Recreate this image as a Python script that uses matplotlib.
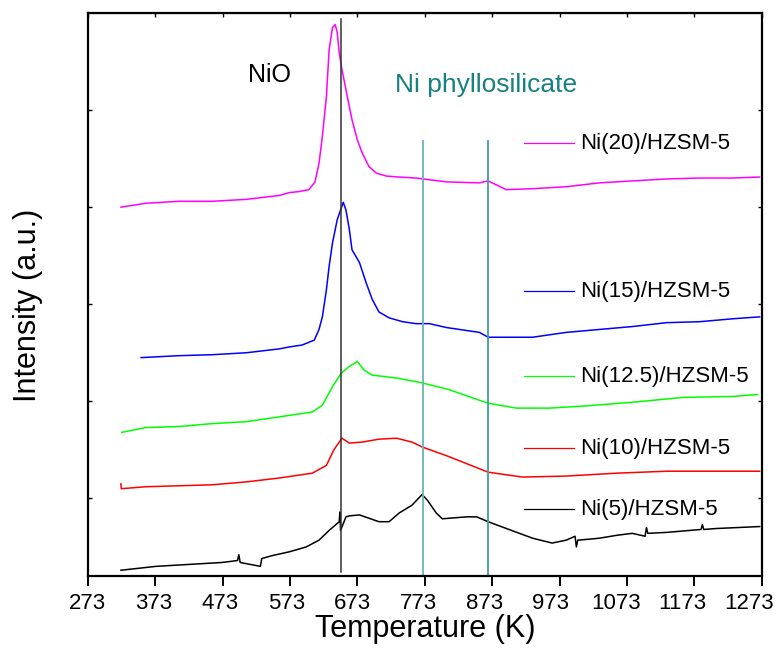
import matplotlib
matplotlib.use("Agg")
import matplotlib.pyplot as plt
from matplotlib.lines import Line2D
from matplotlib.transforms import ScaledTranslation

plt.rcParams['font.family'] = ['Liberation Sans', 'DejaVu Sans']

# ---- data (temperature in K, intensity in a.u., curves vertically offset) ----
T_20 = [322, 359, 408, 457, 508, 557, 572, 586, 601, 610, 616, 621, 627, 631, 636, 640, 643,
        646, 650, 658, 665, 673, 680, 690, 701, 716, 735, 760, 805, 854, 867, 894, 933, 983,
        1032, 1081, 1132, 1181, 1230, 1270]
I_20 = [3.80, 3.84, 3.86, 3.86, 3.88, 3.92, 3.95, 3.96, 3.98, 4.06, 4.25, 4.53, 4.94, 5.42, 5.65,
        5.68, 5.60, 5.39, 5.22, 4.94, 4.70, 4.49, 4.36, 4.22, 4.15, 4.12, 4.11, 4.10, 4.06, 4.05,
        4.07, 3.98, 3.99, 4.01, 4.05, 4.07, 4.09, 4.10, 4.10, 4.11]

T_15 = [352, 408, 457, 508, 557, 572, 591, 609, 616, 621, 627, 631, 636, 643, 649, 652, 656,
        661, 665, 676, 686, 695, 705, 720, 740, 760, 780, 805, 854, 867, 933, 983, 1032, 1081,
        1132, 1181, 1230, 1270]
I_15 = [2.25, 2.27, 2.28, 2.30, 2.34, 2.36, 2.38, 2.43, 2.54, 2.67, 2.95, 3.19, 3.43, 3.67, 3.79,
        3.85, 3.77, 3.57, 3.36, 3.23, 3.02, 2.85, 2.72, 2.66, 2.62, 2.60, 2.60, 2.56, 2.51, 2.46,
        2.46, 2.51, 2.54, 2.57, 2.61, 2.62, 2.65, 2.67]

T_125 = [323, 359, 408, 457, 508, 557, 606, 621, 636, 649, 661, 673, 683, 695, 731,
         769, 809, 867, 909, 958, 1007, 1081, 1156, 1230, 1267]
I_125 = [1.48, 1.53, 1.54, 1.57, 1.59, 1.64, 1.69, 1.76, 1.95, 2.09, 2.16, 2.21, 2.12, 2.07, 2.04,
         1.99, 1.92, 1.78, 1.73, 1.73, 1.75, 1.79, 1.84, 1.85, 1.87]

T_10 = [322, 322.5, 359, 408, 457, 508, 557, 606, 627, 638, 650, 661, 680, 705, 731,
        754, 769, 809, 867, 918, 983, 1058, 1132, 1230, 1270]
I_10 = [0.95, 0.90, 0.92, 0.93, 0.94, 0.97, 1.01, 1.06, 1.14, 1.30, 1.42, 1.37, 1.38, 1.41, 1.42,
        1.38, 1.33, 1.23, 1.07, 1.02, 1.03, 1.06, 1.08, 1.08, 1.08]

T_5 = [322, 374, 423, 472, 495, 497, 499, 529, 531, 546, 572, 597, 616, 631, 646, 647, 648,
       656, 661, 676, 705, 720, 735, 754, 769, 777, 790, 799, 835, 850, 867, 894, 933, 962,
       983, 996, 998, 1000, 1017, 1032, 1058, 1081, 1100, 1102, 1104, 1132, 1183, 1185, 1187,
       1206, 1270]
I_5 = [0.06, 0.10, 0.12, 0.14, 0.16, 0.22, 0.14, 0.10, 0.18, 0.21, 0.25, 0.30, 0.37, 0.47, 0.56,
       0.66, 0.47, 0.61, 0.62, 0.63, 0.56, 0.56, 0.65, 0.73, 0.84, 0.78, 0.65, 0.59, 0.61, 0.61,
       0.56, 0.49, 0.39, 0.34, 0.37, 0.41, 0.30, 0.37, 0.38, 0.39, 0.42, 0.44, 0.41, 0.50, 0.44,
       0.45, 0.48, 0.53, 0.48, 0.49, 0.51]

series = [
    ("Ni(20)/HZSM-5", T_20, I_20, "#ff00ff", 0.769),
    ("Ni(15)/HZSM-5", T_15, I_15, "#0000ff", 0.506),
    ("Ni(12.5)/HZSM-5", T_125, I_125, "#00ff00", 0.355),
    ("Ni(10)/HZSM-5", T_10, I_10, "#ff0000", 0.227),
    ("Ni(5)/HZSM-5", T_5, I_5, "#000000", 0.119),
]

x_ticks = [273, 373, 473, 573, 673, 773, 873, 973, 1073, 1173, 1273]
nio_T = 648
phyllo_T = [770, 867]

fig = plt.figure(figsize=(7.78, 6.48), dpi=100)
ax = fig.add_axes([0.113, 0.111, 0.866, 0.869])

for label, T, I, c, ly in series:
    ax.plot(T, I, color=c, lw=1.1)
    ax.add_line(Line2D([0.647, 0.721], [ly, ly], transform=ax.transAxes, color=c, lw=0.9))
    ax.text(0.730, ly, label, transform=ax.transAxes, fontsize=16, va='center', ha='left')

ax.plot([nio_T, nio_T], [0.04, 5.74], color='#333333', lw=1.1)
ax.plot([phyllo_T[0], phyllo_T[0]], [0, 4.48], color='#6ab4b4', lw=1.3)
ax.plot([phyllo_T[1], phyllo_T[1]], [0, 4.48], color='#3f9e9e', lw=1.3)

ax.text(542, 5.16, "NiO", fontsize=18, ha='center', va='center', color='black')
ax.text(864, 5.06, "Ni phyllosilicate", fontsize=19, ha='center', va='center', color='#178080')

ax.set_xlim(273, 1273)
ax.set_ylim(0, 5.8)
ax.set_xticks(x_ticks)
ax.set_xticklabels([str(t) for t in x_ticks])
ax.set_yticks([0.8, 1.8, 2.8, 3.8, 4.8])
ax.set_yticklabels([])
ax.tick_params(axis='x', direction='out', length=7, width=1.4, labelsize=16, pad=5)
ax.tick_params(axis='y', direction='in', length=3, width=1.0, left=True, right=True)
for s in ax.spines.values():
    s.set_linewidth(1.6)

# slight leftward drift of tick labels as in the reference
for t, lab in zip(x_ticks, ax.get_xticklabels()):
    dx = -13.0 * (t - 273) / 1000.0
    lab.set_transform(lab.get_transform() + ScaledTranslation(dx / 100.0, 0, fig.dpi_scale_trans))

top = ax.secondary_xaxis('top')
top.set_xticks(x_ticks)
top.set_xticklabels([])
top.tick_params(direction='in', length=3, width=1.0)

ax.set_xlabel("Temperature (K)", fontsize=22, labelpad=0)
ax.set_ylabel("Intensity (a.u.)", fontsize=22)
ax.yaxis.set_label_coords(-0.066, 0.48)

fig.savefig("out.png", dpi=100)
